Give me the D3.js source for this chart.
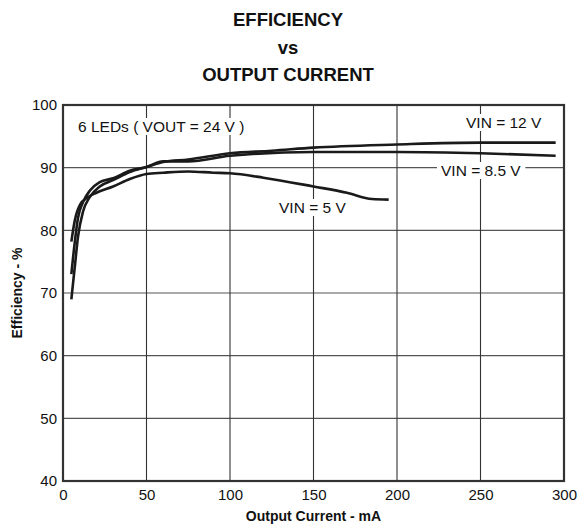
<!DOCTYPE html>
<html>
<head>
<meta charset="UTF-8">
<title>Efficiency vs Output Current</title>
<script src="https://d3js.org/d3.v7.min.js"></script>
<style>
    body { margin: 0; background: #fff; }
    text { font-family: "Liberation Sans", Arial, sans-serif; fill: #111; }
</style>
</head>
<body>
<div id="chart"></div>
<script>
    // valori (corrente mA, efficienza %)
    var current5 = [5, 7, 10, 15, 20, 30, 40, 50, 60, 75, 90, 100, 120, 150, 170, 185, 195];
    var eff5 = [78.2, 81.5, 84, 85.3, 86.0, 87.0, 88.2, 89.0, 89.2, 89.4, 89.2, 89.1, 88.4, 87.0, 86.0, 85.0, 84.9];

    var current85 = [5, 7, 9, 12, 16, 22, 30, 40, 50, 60, 75, 100, 150, 200, 250, 295];
    var eff85 = [73, 78, 82, 84.5, 86.3, 87.7, 88.3, 89.5, 90.1, 91.0, 91.0, 91.9, 92.5, 92.5, 92.3, 91.9];

    var current12 = [5, 7, 9, 12, 16, 22, 30, 40, 50, 60, 75, 100, 125, 150, 200, 250, 295];
    var eff12 = [69, 74, 79, 83, 85.3, 87, 88, 89.3, 90.1, 90.9, 91.3, 92.3, 92.7, 93.2, 93.7, 94.0, 94.0];

    var xTicks = [0, 50, 100, 150, 200, 250, 300];
    var yTicks = [40, 50, 60, 70, 80, 90, 100];

    var width = 586, height = 531;
    var margin = { top: 105, right: 22, bottom: 50, left: 63 };
    var w = width - margin.left - margin.right;
    var h = height - margin.top - margin.bottom;

    var svg = d3.select("#chart")
        .append("svg")
        .attr("width", width)
        .attr("height", height);

    // titolo
    var titolo = ["EFFICIENCY", "vs", "OUTPUT CURRENT"];
    svg.selectAll(".titolo")
        .data(titolo)
        .enter()
        .append("text")
        .attr("class", "titolo")
        .attr("x", 288)
        .attr("y", function (d, i) { return 26 + i * 27.5; })
        .attr("text-anchor", "middle")
        .style("font-size", "18.5px")
        .style("font-weight", "bold")
        .text(function (d) { return d; });

    var g = svg.append("g")
        .attr("transform", "translate(" + margin.left + "," + margin.top + ")");

    var x = d3.scaleLinear().domain([0, 300]).range([0, w]);
    var y = d3.scaleLinear().domain([40, 100]).range([h, 0]);

    // griglia
    g.append("g")
        .selectAll("line")
        .data(yTicks.slice(1, -1))
        .enter()
        .append("line")
        .attr("x1", 0).attr("x2", w)
        .attr("y1", function (d) { return y(d); })
        .attr("y2", function (d) { return y(d); })
        .style("stroke", "#555")
        .style("stroke-width", "1.2px");

    g.append("g")
        .selectAll("line")
        .data(xTicks.slice(1, -1))
        .enter()
        .append("line")
        .attr("y1", 0).attr("y2", h)
        .attr("x1", function (d) { return x(d); })
        .attr("x2", function (d) { return x(d); })
        .style("stroke", "#333")
        .style("stroke-width", "1.1px");

    // assi
    var xAxis = d3.axisBottom(x).tickValues(xTicks).tickSize(0).tickPadding(8);
    var yAxis = d3.axisLeft(y).tickValues(yTicks).tickSize(0).tickPadding(6);

    g.append("g")
        .attr("transform", "translate(0," + h + ")")
        .call(xAxis)
        .call(function (s) { s.select(".domain").remove(); })
        .selectAll("text")
        .style("font-size", "15px")
        .style("fill", "#111");

    g.append("g")
        .call(yAxis)
        .call(function (s) { s.select(".domain").remove(); })
        .selectAll("text")
        .style("font-size", "15px")
        .style("fill", "#111");

    // etichette con sfondo bianco
    var etichette = [
        { t: "6 LEDs ( VOUT = 24 V )", cx: 15, cy: 27 },
        { t: "VIN = 12 V", cx: 403, cy: 23 },
        { t: "VIN = 8.5 V", cx: 378, cy: 71 },
        { t: "VIN = 5 V", cx: 216, cy: 108 }
    ];
    etichette.forEach(function (e) {
        var txt = g.append("text")
            .attr("x", e.cx)
            .attr("y", e.cy)
            .style("font-size", "15.5px")
            .text(e.t);
        var b = txt.node().getBBox();
        g.insert("rect", function () { return txt.node(); })
            .attr("x", b.x - 4)
            .attr("y", b.y)
            .attr("width", b.width + 8)
            .attr("height", b.height)
            .style("fill", "white");
    });

    // curve
    var line = d3.line()
        .x(function (d) { return x(d[0]); })
        .y(function (d) { return y(d[1]); })
        .curve(d3.curveMonotoneX);

    var serie = [
        d3.zip(current5, eff5),
        d3.zip(current85, eff85),
        d3.zip(current12, eff12)
    ];

    g.selectAll(".curva")
        .data(serie)
        .enter()
        .append("path")
        .attr("class", "curva")
        .attr("d", line)
        .style("fill", "none")
        .style("stroke", "#1a1a1a")
        .style("stroke-width", "2.6px");

    // bordo
    g.append("rect")
        .attr("width", w)
        .attr("height", h)
        .style("fill", "none")
        .style("stroke", "#333")
        .style("stroke-width", "2.2px");

    // titoli degli assi
    svg.append("text")
        .attr("x", margin.left + w / 2)
        .attr("y", 521)
        .attr("text-anchor", "middle")
        .style("font-size", "14px")
        .style("font-weight", "bold")
        .text("Output Current - mA");

    svg.append("text")
        .attr("transform", "translate(22," + (margin.top + h / 2) + ") rotate(-90)")
        .attr("text-anchor", "middle")
        .style("font-size", "14px")
        .style("font-weight", "bold")
        .text("Efficiency - %");
</script>
</body>
</html>
